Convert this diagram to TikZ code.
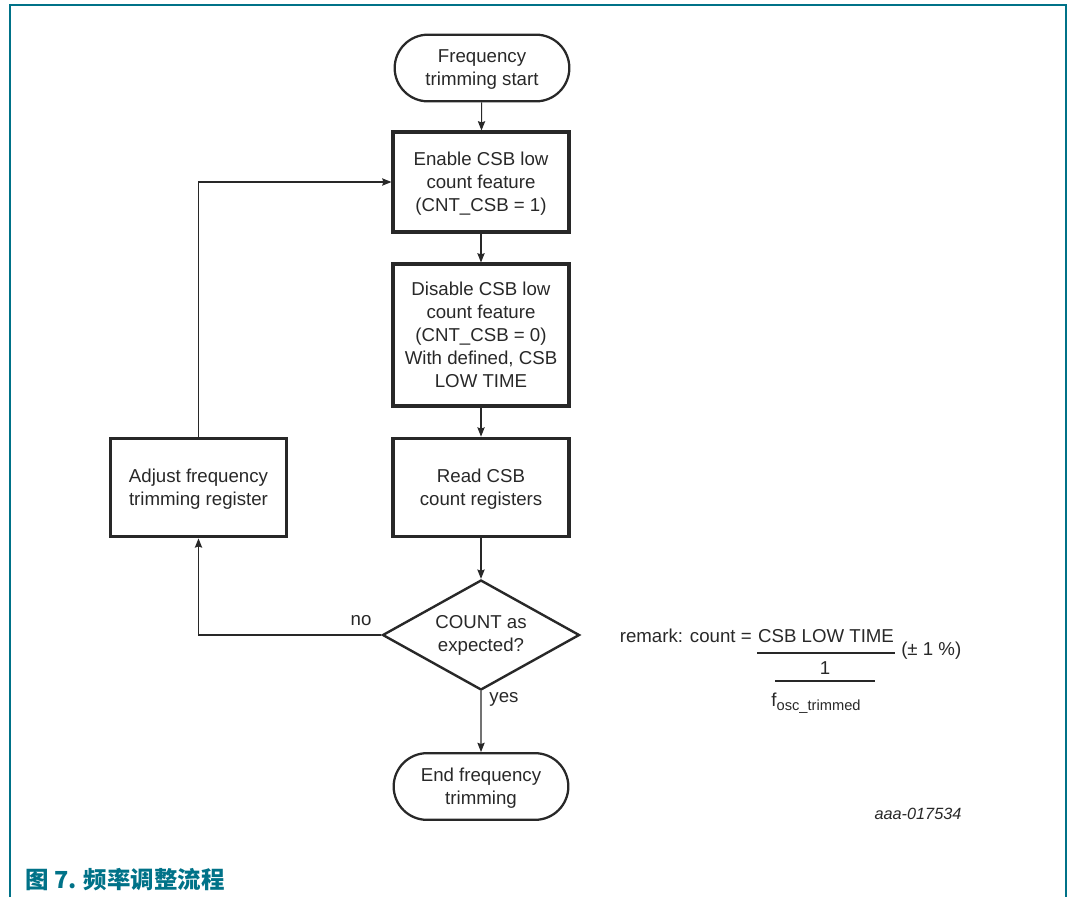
\documentclass[tikz,border=0pt]{standalone}
\usepackage{fontspec}
\setmainfont{Liberation Sans}
\newfontfamily\cjk{Noto Sans CJK SC}
\usetikzlibrary{shapes.misc,shapes.geometric,arrows.meta}
\definecolor{frameteal}{RGB}{0,114,136}
\definecolor{inkgray}{RGB}{40,40,40}
\begin{document}
\begin{tikzpicture}[x=0.75pt,y=-0.75pt,
  every node/.style={text=inkgray,font=\fontsize{14}{17.3}\selectfont,align=center,inner sep=0pt},
  stepbox/.style={draw=inkgray,line width=2.3pt,rectangle,minimum width=132pt,text depth=0pt},
  terminal/.style={draw=inkgray,line width=1.7pt,rounded rectangle,rounded rectangle arc length=180,minimum width=131pt,minimum height=50pt,text depth=0pt},
  decision/.style={draw=inkgray,line width=1.8pt,diamond,aspect=1.8,minimum width=147.75pt,minimum height=82.5pt},
  flow/.style={draw=inkgray,line width=0.8pt,-{Stealth[length=7pt,width=5.5pt,inset=1pt]}},
  plain/.style={draw=inkgray,line width=0.8pt},
  border/.style={draw=frameteal,line width=1.9pt}]
  \useasboundingbox (0,0) rectangle (1069,897);
  % outer frame (open at the bottom)
  \coordinate (fl) at (10,897);
  \coordinate (ftl) at (10,5);
  \coordinate (ftr) at (1066,5);
  \coordinate (fr) at (1066,897);
  \draw[border] (fl) -- (ftl) -- (ftr) -- (fr);

  % flow chart
  \node[terminal] (start) at (482,68) {Frequency\\trimming start};
  \node[stepbox,minimum height=75pt] (enable) at (481,182) {Enable CSB low\\count feature\\(CNT\_CSB = 1)};
  \node[stepbox,minimum height=106.5pt] (disable) at (481,335) {Disable CSB low\\count feature\\(CNT\_CSB = 0)\\With defined, CSB\\LOW TIME};
  \node[stepbox,minimum height=74pt] (read) at (481,487.5) {Read CSB\\count registers};
  \node[decision] (check) at (481,635) {COUNT as\\expected?};
  \node[terminal] (finish) at (481,786.5) {End frequency\\trimming};
  \node[stepbox,minimum height=74pt] (adjust) at (198.5,487.5) {Adjust frequency\\trimming register};

  \draw[flow] (start) -- (enable);
  \draw[flow] (enable) -- (disable);
  \draw[flow] (disable) -- (read);
  \draw[flow] (read) -- (check);
  \draw[flow] (check) -- (finish);
  \draw[flow] (check.west) -| (adjust.south);
  \draw[flow] (adjust.north) |- (enable.west);

  \node (no) at (361,621) {no};
  \node (yes) at (504,699) {yes};

  % remark formula
  \node[anchor=east] (remark) at (752,636) {remark: count =};
  \node (num) at (826,636) {CSB LOW TIME};
  \coordinate (barA) at (757,653);
  \coordinate (barB) at (895,653);
  \draw[plain] (barA) -- (barB);
  \node[anchor=west] (tol) at (901,651) {(± 1 \%)};
  \node (one) at (825,668) {1};
  \coordinate (barC) at (775,681);
  \coordinate (barD) at (875,681);
  \draw[plain] (barC) -- (barD);
  \node (fosc) at (816,703) {f\raisebox{-0.35ex}{\fontsize{11}{13}\selectfont osc\_trimmed}};

  \node[font=\itshape\fontsize{12.2}{14}\selectfont] (code) at (918,814) {aaa-017534};

  \node[anchor=west,text=frameteal,font=\cjk\bfseries\fontsize{17.6}{21}\selectfont] (caption) at (25,880) {图 7. 频率调整流程};
\end{tikzpicture}
\end{document}
